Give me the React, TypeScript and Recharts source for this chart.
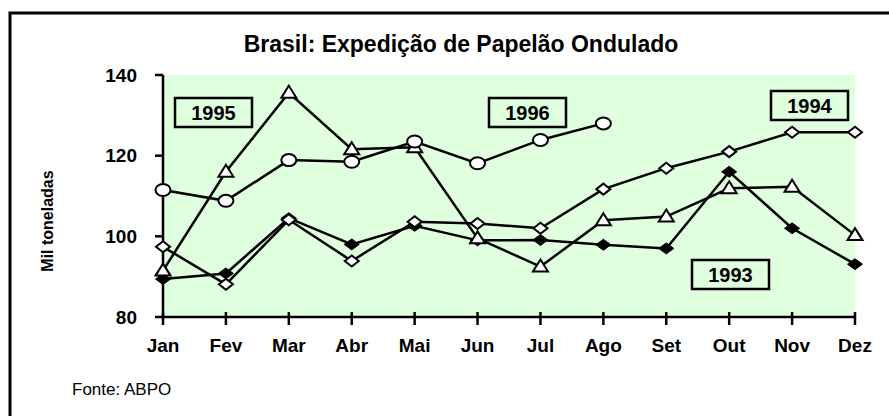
import React from 'react';
import { LineChart, Line, XAxis, YAxis, CartesianGrid, Customized } from 'recharts';

const months = ['Jan', 'Fev', 'Mar', 'Abr', 'Mai', 'Jun', 'Jul', 'Ago', 'Set', 'Out', 'Nov', 'Dez'];
const s1993 = [89.4, 90.8, 104.5, 98.0, 102.6, 99.0, 99.1, 97.9, 97.0, 116.0, 102.0, 93.1];
const s1994 = [97.4, 88.1, 104.1, 93.9, 103.6, 103.2, 102.0, 111.7, 116.9, 121.0, 125.8, 125.8];
const s1995 = [91.5, 116.0, 135.6, 121.6, 122.1, 99.5, 92.5, 104.0, 104.9, 111.9, 112.3, 100.3];
const s1996: (number | null)[] = [111.5, 108.8, 118.9, 118.5, 123.5, 118.1, 123.9, 128.0, null, null, null, null];
const yTicks = [80, 100, 120, 140];
const yearLabels = ['1995', '1996', '1994', '1993'];

const title = 'Brasil: Expedição de Papelão Ondulado';
const yLabel = 'Mil toneladas';
const source = 'Fonte: ABPO';

const data = months.map((m, i) => ({
  m,
  y1993: s1993[i],
  y1994: s1994[i],
  y1995: s1995[i],
  y1996: s1996[i],
}));

const FONT = '"Liberation Sans", Arial, Helvetica, sans-serif';
const BG = '#dfffdf';

const makeDot = (kind: string) => (props: any) => {
  const { cx, cy, index } = props;
  const key = `${kind}-${index}`;
  if (cx == null || cy == null || props.value == null) return <g key={key} />;
  if (kind === 'fd') {
    return (
      <polygon key={key} points={`${cx - 7.5},${cy} ${cx},${cy - 5.5} ${cx + 7.5},${cy} ${cx},${cy + 5.5}`} fill="#000" stroke="#000" strokeWidth={1} />
    );
  }
  if (kind === 'od') {
    return (
      <polygon key={key} points={`${cx - 7},${cy} ${cx},${cy - 5.5} ${cx + 7},${cy} ${cx},${cy + 5.5}`} fill="#fff" stroke="#000" strokeWidth={2} />
    );
  }
  if (kind === 'tri') {
    return (
      <polygon key={key} points={`${cx},${cy - 7} ${cx + 7.5},${cy + 5} ${cx - 7.5},${cy + 5}`} fill="#fff" stroke="#000" strokeWidth={2} />
    );
  }
  return <ellipse key={key} cx={cx} cy={cy} rx={7.5} ry={6} fill="#fff" stroke="#000" strokeWidth={2} />;
};

const XTick = (props: any) => {
  const { x, y, payload } = props;
  return (
    <g>
      <line x1={x} x2={x} y1={y - 5} y2={y + 8} stroke="#000" strokeWidth={2.5} />
      <text x={x} y={y + 35} textAnchor="middle" fontFamily={FONT} fontWeight="bold" fontSize={19} fill="#000">
        {payload.value}
      </text>
    </g>
  );
};

const boxPos = [
  { x: 175, y: 98 },
  { x: 489, y: 98 },
  { x: 771, y: 91 },
  { x: 692, y: 260 },
];

const Decorations = () => (
  <g>
    <rect x={10} y={13} width={900} height={420} fill="none" stroke="#000" strokeWidth={3} />
    <text x={461} y={52} textAnchor="middle" fontFamily={FONT} fontWeight="bold" fontSize={23} fill="#000">
      {title}
    </text>
    <text
      x={53}
      y={221}
      transform="rotate(-90 53 221)"
      textAnchor="middle"
      fontFamily={FONT}
      fontWeight="bold"
      fontSize={16}
      fill="#000"
    >
      {yLabel}
    </text>
    <text x={72} y={395} fontFamily={FONT} fontSize={17} fill="#000">
      {source}
    </text>
    {yearLabels.map((lab, i) => (
      <g key={lab}>
        <rect x={boxPos[i].x} y={boxPos[i].y} width={77} height={29} fill={BG} stroke="#000" strokeWidth={2.5} />
        <text
          x={boxPos[i].x + 38.5}
          y={boxPos[i].y + 22}
          textAnchor="middle"
          fontFamily={FONT}
          fontWeight="bold"
          fontSize={20}
          fill="#000"
        >
          {lab}
        </text>
      </g>
    ))}
  </g>
);

export default function App() {
  return (
    <div style={{ position: 'absolute', left: 0, top: 0, width: 889, height: 416, background: '#fff' }}>
      <LineChart width={889} height={416} data={data} margin={{ top: 75, right: 34, bottom: 69, left: 103 }}>
        <CartesianGrid horizontal={false} vertical={false} fill={BG} stroke="none" />
        <XAxis
          dataKey="m"
          height={30}
          interval={0}
          tickSize={0}
          tickMargin={0}
          tick={<XTick />}
          tickLine={false}
          axisLine={{ stroke: '#000', strokeWidth: 2.5 }}
        />
        <XAxis
          xAxisId="top"
          dataKey="m"
          orientation="top"
          height={0}
          tick={false}
          tickLine={false}
          axisLine={{ stroke: '#000', strokeWidth: 2.5 }}
        />
        <YAxis
          width={60}
          domain={[80, 140]}
          ticks={yTicks}
          interval={0}
          tickSize={8}
          tickMargin={18}
          tick={{ fill: '#000', fontSize: 19, fontWeight: 'bold', fontFamily: FONT }}
          tickLine={{ stroke: '#000', strokeWidth: 2.5 }}
          axisLine={{ stroke: '#000', strokeWidth: 2.5 }}
        />
        <YAxis
          yAxisId="right"
          orientation="right"
          width={0}
          domain={[80, 140]}
          tick={false}
          tickLine={false}
          axisLine={{ stroke: '#000', strokeWidth: 2.5 }}
        />
        <Line dataKey="y1993" stroke="#000" strokeWidth={2.5} dot={makeDot('fd')} activeDot={false} isAnimationActive={false} />
        <Line dataKey="y1994" stroke="#000" strokeWidth={2.5} dot={makeDot('od')} activeDot={false} isAnimationActive={false} />
        <Line dataKey="y1995" stroke="#000" strokeWidth={2.5} dot={makeDot('tri')} activeDot={false} isAnimationActive={false} />
        <Line dataKey="y1996" stroke="#000" strokeWidth={2.5} dot={makeDot('circ')} activeDot={false} isAnimationActive={false} />
        <Customized component={Decorations} />
      </LineChart>
    </div>
  );
}
